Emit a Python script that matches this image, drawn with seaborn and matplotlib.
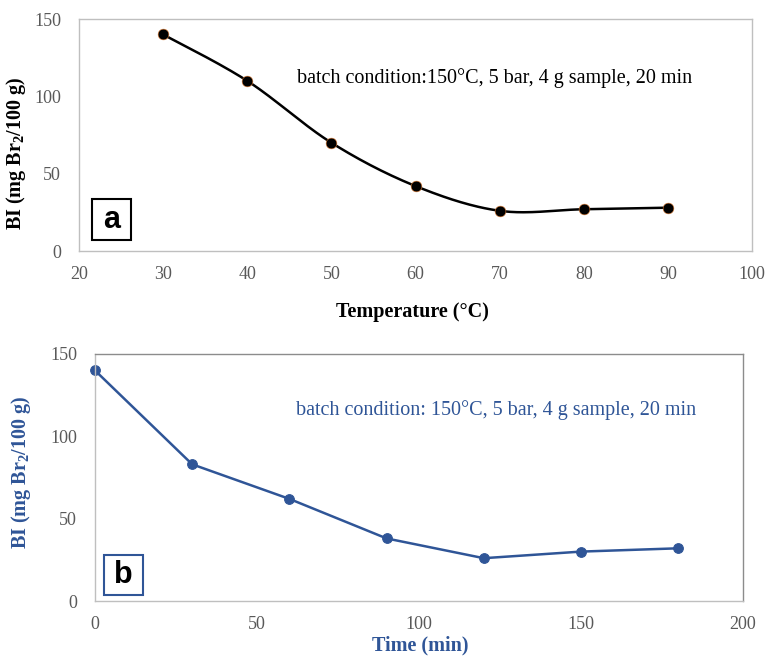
import numpy as np
import pandas as pd
import matplotlib
matplotlib.use("Agg")
import matplotlib.pyplot as plt
from matplotlib.patches import Rectangle
import seaborn as sns

# ── Data ─────────────────────────────────────────────────
temp_c   = [30, 40, 50, 60, 70, 80, 90]
bi_temp  = [140, 110, 70, 42, 26, 27, 28]

time_min = [0, 30, 60, 90, 120, 150, 180]
bi_time  = [140, 83, 62, 38, 26, 30, 32]

note_a = "batch condition:150°C, 5 bar, 4 g sample, 20 min"
note_b = "batch condition: 150°C, 5 bar, 4 g sample, 20 min"
ylab   = r"BI (mg Br$_\mathbf{2}$/100 g)"

# ── Style ────────────────────────────────────────────────
sns.set_style("white")
plt.rcParams.update({
    "font.family": ["Liberation Serif", "DejaVu Serif"],
    "mathtext.fontset": "custom",
    "mathtext.rm": "Liberation Serif:bold",
    "mathtext.bf": "Liberation Serif:bold",
    "mathtext.it": "Liberation Serif:bold",
})

BLUE  = "#2F5597"
GRAY  = "#595959"
LIGHT = "#BFBFBF"
DARK  = "#8C8C8C"
LABEL_FS = 14.5
NOTE_FS  = 14.5


def smooth_curve(x, y, n=40):
    # Excel-style smoothed line (Catmull-Rom through the points)
    x = np.asarray(x, float)
    y = np.asarray(y, float)
    px = np.concatenate([[x[0]], x, [x[-1]]])
    py = np.concatenate([[y[0]], y, [y[-1]]])
    xs, ys = [], []
    t = np.linspace(0, 1, n)
    for i in range(1, len(px) - 2):
        p0 = np.array([px[i - 1], py[i - 1]])
        p1 = np.array([px[i], py[i]])
        p2 = np.array([px[i + 1], py[i + 1]])
        p3 = np.array([px[i + 2], py[i + 2]])
        c1 = p1 + (p2 - p0) / 6
        c2 = p2 - (p3 - p1) / 6
        b = ((1 - t) ** 3)[:, None] * p1 + (3 * (1 - t) ** 2 * t)[:, None] * c1 \
            + (3 * (1 - t) * t ** 2)[:, None] * c2 + (t ** 3)[:, None] * p2
        xs.extend(b[:, 0]); ys.extend(b[:, 1])
    return np.array(xs), np.array(ys)


def style_axes(ax, top_right):
    for side in ["left", "bottom"]:
        ax.spines[side].set_color(LIGHT)
    for side in ["top", "right"]:
        ax.spines[side].set_color(top_right)
    for sp in ax.spines.values():
        sp.set_linewidth(1.0)
    ax.tick_params(axis="both", direction="out", length=5, width=1,
                   color=LIGHT, labelsize=13, labelcolor=GRAY)
    ax.tick_params(axis="x", pad=5.5)
    ax.tick_params(axis="y", pad=8)


fig = plt.figure(figsize=(7.68, 6.59), dpi=100)

# ── (a) Temperature ──────────────────────────────────────
ax1 = fig.add_axes([79 / 768, 1 - 251 / 659, 673 / 768, 232 / 659])
df_a = pd.DataFrame({"T": temp_c, "BI": bi_temp})
sx, sy = smooth_curve(df_a["T"], df_a["BI"])
ax1.plot(sx, sy, color="black", lw=1.8, zorder=2)
sns.scatterplot(data=df_a, x="T", y="BI", ax=ax1, color="black",
                s=60, edgecolor="#E07B30", linewidth=0.4, zorder=3)
ax1.set_xlim(20, 100)
ax1.set_ylim(0, 150)
ax1.set_xticks(range(20, 101, 10))
ax1.set_yticks([0, 50, 100, 150])
style_axes(ax1, LIGHT)
ax1.set_xlabel("Temperature (°C)", fontsize=LABEL_FS, fontweight="bold", color="black")
ax1.xaxis.set_label_coords(0.496, -0.22)
ax1.set_ylabel(ylab, fontsize=LABEL_FS, fontweight="bold", color="black")
ax1.yaxis.set_label_coords(-0.076, 0.42)
ax1.text(0.324, 0.746, note_a, transform=ax1.transAxes, fontsize=NOTE_FS,
         color="black", ha="left", va="center")
ax1.add_patch(Rectangle((0.0193, 0.047), 0.058, 0.177, transform=ax1.transAxes,
                        fill=False, edgecolor="black", lw=1.5, clip_on=False))
ax1.text(0.0193 + 0.029, 0.047 + 0.088, "a", transform=ax1.transAxes,
         family="Liberation Sans", fontweight="bold", fontsize=22,
         ha="center", va="center", color="black")

# ── (b) Time ─────────────────────────────────────────────
ax2 = fig.add_axes([95 / 768, 1 - 601 / 659, 648 / 768, 247 / 659])
df_b = pd.DataFrame({"t": time_min, "BI": bi_time})
sns.lineplot(data=df_b, x="t", y="BI", ax=ax2, color=BLUE, lw=1.8,
             marker="o", markersize=7, markeredgecolor=BLUE, clip_on=False)
ax2.set_xlim(0, 200)
ax2.set_ylim(0, 150)
ax2.set_xticks([0, 50, 100, 150, 200])
ax2.set_yticks([0, 50, 100, 150])
style_axes(ax2, DARK)
ax2.set_xlabel("Time (min)", fontsize=LABEL_FS, fontweight="bold", color=BLUE)
ax2.xaxis.set_label_coords(0.5015, -0.138)
ax2.set_ylabel(ylab, fontsize=LABEL_FS, fontweight="bold", color=BLUE)
ax2.yaxis.set_label_coords(-0.096, 0.52)
ax2.text(0.310, 0.773, note_b, transform=ax2.transAxes, fontsize=NOTE_FS,
         color=BLUE, ha="left", va="center")
ax2.add_patch(Rectangle((0.0139, 0.024), 0.060, 0.162, transform=ax2.transAxes,
                        fill=False, edgecolor=BLUE, lw=1.5, clip_on=False))
ax2.text(0.0139 + 0.030, 0.024 + 0.081, "b", transform=ax2.transAxes,
         family="Liberation Sans", fontweight="bold", fontsize=22,
         ha="center", va="center", color="black")

fig.savefig("out.png", dpi=100)
